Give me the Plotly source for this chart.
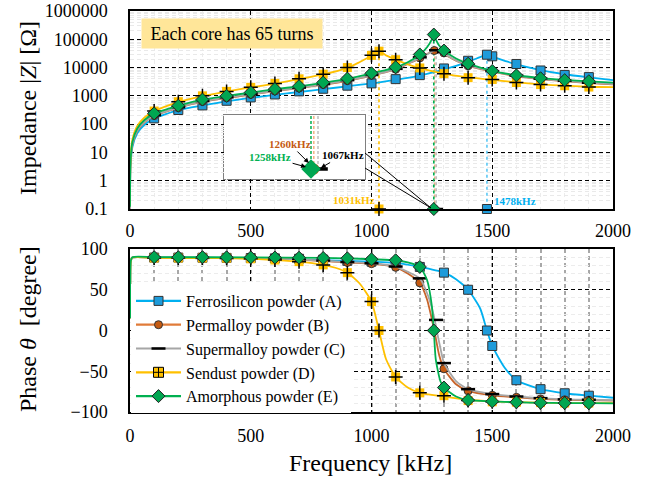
import plotly.graph_objects as go

FONT = "Liberation Serif"

# ---------------- data ----------------
NAMES = ["Ferrosilicon powder (A)", "Permalloy powder (B)", "Supermalloy powder (C)",
         "Sendust powder (D)", "Amorphous powder (E)"]
F_MARK = [100, 200, 300, 400, 500, 600, 700, 800, 900, 1000,
          1100, 1200, 1300, 1400, 1500, 1600, 1700, 1800, 1900]

# measured impedance markers |Z| [Ohm]
Z_A = [160, 316, 460, 670, 880, 1120, 1440, 1780, 2290, 2760, 3900, 5400, 9300, 17400, 25000, 13400, 7900, 5500, 4600]
Z_B = [200, 380, 630, 850, 1120, 1480, 1880, 2500, 3450, 5300, 8700, 22000, 33000, 11500, 7200, 5000, 3900, 3300, 2800]
Z_C = [208, 395, 655, 885, 1165, 1540, 1955, 2600, 3590, 5500, 9000, 23000, 35000, 12000, 7500, 5200, 4050, 3430, 2900]
Z_D = [290, 620, 1000, 1440, 2000, 2760, 4000, 5850, 10000, 27000, 19000, 9700, 6100, 4400, 3800, 2960, 2500, 2270, 2050]
Z_E = [240, 450, 740, 1000, 1320, 1740, 2200, 2960, 4080, 6300, 10300, 29000, 40000, 13700, 7600, 5300, 4200, 3600, 3300]

# measured phase markers [degree]
PH_A = [89.5, 89.5, 89.3, 89.1, 88.9, 88.5, 88, 87, 85.5, 84.5, 83, 78, 71, 50, -19, -61, -72, -77, -80]
PH_B = [89.5, 89.3, 89, 88.8, 88.5, 87.8, 87, 85.5, 83.5, 82, 77.5, 58.5, -47, -74, -79.5, -82, -84, -85, -85.5]
PH_C = [89.6, 89.4, 89.1, 88.9, 88.6, 88, 87.3, 85.8, 84, 82.5, 78.5, 64, -40, -72, -78, -81, -83, -84.5, -85]
PH_D = [89, 89, 89, 88.8, 88, 86.5, 84.5, 80.5, 71, 35.5, -57, -76.5, -80, -86, -87.5, -88, -88.5, -89, -89]
PH_E = [90, 90, 90, 89.8, 89.7, 89.5, 89.3, 89, 88.6, 87.4, 86.2, 78, -70, -85.4, -87, -88, -88.7, -89, -89.2]

# resonance points (A..E)
RES_F = [1478, 1260, 1267, 1031, 1258]
RES_Z = [28500, 40000, 41000, 38000, 147000]
RES_PH = [0, 0, 13, 0, 0]
RES_BOTTOM = 0.1
RES_DROP_F = [1478, 1262, 1268, 1031, 1258]
RES_LABELS = ["1478kHz", "1260kHz", "1067kHz", "1031kHz", "1258kHz"]

# fitted curves
LZ_A_F = [0.05, 2, 10, 30, 60, 100, 200, 300, 400, 500, 600, 700, 800, 900, 1000, 1100, 1200, 1300, 1400,
          1450, 1478, 1510, 1560, 1600, 1700, 1800, 1900, 2000]
LZ_A = [0.1, 3.1, 15.5, 47, 95, 158, 312, 455, 640, 845, 1080, 1370, 1720, 2180, 2750, 3700, 5200, 8600, 16000,
        23500, 28500, 23000, 16500, 13000, 8200, 5800, 4500, 3600]
LZ_B_F = [0.05, 2, 10, 30, 60, 100, 200, 300, 400, 500, 600, 700, 800, 900, 1000, 1100,
          1150, 1200, 1230, 1250, 1262, 1275, 1300, 1350, 1400, 1500, 1600, 1700, 1800, 1900, 2000]
LZ_B = [0.1, 3.9, 19.5, 58, 117, 195, 375, 620, 840, 1110, 1460, 1870, 2480, 3420, 5200, 8600,
        13500, 21000, 30000, 37000, 40000, 37000, 30000, 17500, 11800, 7200, 5000, 3900, 3300, 2850, 2550]
LZ_C_F = [0.05, 2, 10, 30, 60, 100, 200, 300, 400, 500, 600, 700, 800, 900, 1000, 1100,
          1150, 1200, 1235, 1255, 1268, 1280, 1300, 1350, 1400, 1500, 1600, 1700, 1800, 1900, 2000]
LZ_C = [0.1, 4, 20, 60, 120, 200, 386, 640, 865, 1145, 1505, 1925, 2555, 3520, 5350, 8850,
        13900, 21600, 31000, 38000, 41000, 37500, 31000, 18000, 12200, 7400, 5150, 4000, 3400, 2930, 2620]
LZ_D_F = [0.05, 2, 10, 30, 60, 100, 200, 300, 400, 500, 600, 700, 800, 900,
          950, 1000, 1031, 1060, 1100, 1150, 1200, 1300, 1400, 1500, 1600, 1700, 1800, 1900, 2000]
LZ_D = [0.13, 5.7, 28.5, 86, 172, 285, 600, 980, 1420, 1980, 2700, 3900, 5700, 9700,
        15500, 26000, 38000, 27000, 19000, 13000, 9600, 6100, 4500, 3700, 3000, 2550, 2300, 2100, 2050]
LZ_E_F = [0.05, 2, 10, 30, 60, 100, 200, 300, 400, 500, 600, 700, 800, 900, 1000, 1100,
          1150, 1200, 1230, 1250, 1258, 1266, 1280, 1300, 1350, 1400, 1500, 1600, 1700, 1800, 1900, 2000]
LZ_E = [0.12, 4.7, 23.5, 70, 140, 235, 445, 730, 990, 1310, 1720, 2180, 2900, 4000, 6200, 10200,
        15500, 28500, 52000, 100000, 147000, 100000, 60000, 40000, 21000, 13800, 7700, 5350, 4250, 3650, 3250, 2950]

LP_A_F = [0.3, 1, 3, 10, 100, 500, 900, 1100, 1200, 1300, 1350, 1400, 1450, 1478, 1500, 1550, 1600, 1700, 1800, 1900, 2000]
LP_A = [15, 60, 85, 89.5, 89.5, 88.8, 85.5, 83, 78, 71, 63, 50, 27, 0, -19, -45, -61, -72, -77, -80, -82.5]
LP_B_F = [0.3, 1, 3, 10, 100, 500, 700, 900, 1000, 1100, 1150, 1200, 1230, 1260, 1280, 1300, 1350, 1400,
          1500, 1600, 1700, 1800, 1900, 2000]
LP_B = [15, 60, 85, 89.5, 89.5, 88.5, 87, 83.5, 82, 77.5, 70, 58.5, 38, 0, -30, -47, -66, -74,
        -79.5, -82, -84, -85, -85.5, -86]
LP_C_F = [0.3, 1, 3, 10, 100, 500, 700, 900, 1000, 1100, 1150, 1200, 1235, 1262, 1270, 1290, 1300, 1350,
          1400, 1500, 1600, 1700, 1800, 1900, 2000]
LP_C = [15, 60, 85, 89.5, 89.5, 88.7, 87.3, 84, 82.5, 78.5, 72, 64, 42, 13, 0, -28, -40, -62,
        -72, -78, -81, -83, -84.5, -85, -85.5]
LP_D_F = [0.3, 1, 3, 10, 100, 400, 500, 600, 700, 800, 850, 900, 950, 1000, 1031, 1060, 1100, 1150, 1200,
          1300, 1400, 1500, 1600, 1700, 1800, 1900, 2000]
LP_D = [15, 60, 85, 89.5, 89, 88.8, 88, 86.5, 84.5, 80.5, 77, 71, 58, 35.5, 0, -35, -57, -70, -76.5,
        -81, -85, -87, -88, -88.5, -89, -89, -89.2]
LP_E_F = [0.3, 1, 3, 10, 100, 500, 800, 900, 1000, 1100, 1150, 1200, 1230, 1250, 1258, 1266, 1285, 1300,
          1350, 1400, 1500, 1600, 1700, 1800, 1900, 2000]
LP_E = [15, 60, 85, 90, 90, 89.7, 89, 88.6, 87.4, 86.2, 83.5, 78, 62, 30, 0, -35, -62, -70,
        -81, -85.4, -87, -88, -88.7, -89, -89.2, -89.3]

# inset (zoomed view near 1258 kHz)
INSET_F = [1258, 1262, 1271]
INSET_DASH_F = [1258, 1262, 1268]

Z_TICKS = [0.1, 1, 10, 100, 1000, 10000, 100000, 1000000]
Z_TICK_TEXT = ["0.1", "1", "10", "100", "1000", "10000", "100000", "1000000"]
PH_TICKS = [-100, -50, 0, 50, 100]
F_TICKS = [0, 500, 1000, 1500, 2000]

# ---------------- styles ----------------
LINE_COL = ["#00B0F0", "#C8642A", "#A6A6A6", "#FFC000", "#00B050"]
DROP_COL = ["#5BC8F5", "#F4B183", "#BFBFBF", "#FFC000", "#00B050"]
MARKERS = [
    dict(symbol="square", size=9, color="#1E9BDA", line=dict(color="#333333", width=1)),
    dict(symbol="circle", size=8, color="#C55A11", line=dict(color="#333333", width=1)),
    dict(symbol="line-ew", size=10, color="black", line=dict(color="black", width=2.5)),
    dict(symbol="square", size=9, color="#FFC000", line=dict(color="#FFC000", width=0)),
    dict(symbol="diamond", size=10, color="#00A651", line=dict(color="#222222", width=1)),
]
CROSS = dict(symbol="cross-thin", size=10, color="black", line=dict(color="black", width=1.5))

Z_MARK = [Z_A, Z_B, Z_C, Z_D, Z_E]
PH_MARK = [PH_A, PH_B, PH_C, PH_D, PH_E]
LZ = [(LZ_A_F, LZ_A), (LZ_B_F, LZ_B), (LZ_C_F, LZ_C), (LZ_D_F, LZ_D), (LZ_E_F, LZ_E)]
LP = [(LP_A_F, LP_A), (LP_B_F, LP_B), (LP_C_F, LP_C), (LP_D_F, LP_D), (LP_E_F, LP_E)]

fig = go.Figure()

# resonance drop lines (top plot)
for i in range(5):
    fig.add_trace(go.Scatter(x=[RES_DROP_F[i], RES_DROP_F[i]], y=[RES_Z[i], RES_BOTTOM], mode="lines",
                             line=dict(color=DROP_COL[i], width=1.6, dash="dot"),
                             showlegend=False, hoverinfo="skip", xaxis="x", yaxis="y"))

for i in range(5):
    # impedance
    fig.add_trace(go.Scatter(x=LZ[i][0], y=LZ[i][1], mode="lines",
                             line=dict(color=LINE_COL[i], width=1.8, shape="spline", smoothing=0.6),
                             showlegend=False, xaxis="x", yaxis="y"))
    mx = F_MARK + [RES_F[i], RES_F[i]]
    my = Z_MARK[i] + [RES_Z[i], RES_BOTTOM]
    fig.add_trace(go.Scatter(x=mx, y=my, mode="markers", marker=MARKERS[i], cliponaxis=False,
                             showlegend=False, xaxis="x", yaxis="y"))
    if i == 3:
        fig.add_trace(go.Scatter(x=mx, y=my, mode="markers", marker=CROSS, cliponaxis=False,
                                 showlegend=False, xaxis="x", yaxis="y"))
    # phase
    fig.add_trace(go.Scatter(x=LP[i][0], y=LP[i][1], mode="lines",
                             line=dict(color=LINE_COL[i], width=1.8, shape="spline", smoothing=0.6),
                             showlegend=False, xaxis="x2", yaxis="y2"))
    px_ = F_MARK + [RES_F[i]]
    py_ = PH_MARK[i] + [RES_PH[i]]
    fig.add_trace(go.Scatter(x=px_, y=py_, mode="markers", marker=MARKERS[i],
                             showlegend=False, xaxis="x2", yaxis="y2"))
    if i == 3:
        fig.add_trace(go.Scatter(x=px_, y=py_, mode="markers", marker=CROSS,
                                 showlegend=False, xaxis="x2", yaxis="y2"))

# legend entries
for i in range(5):
    mk = dict(MARKERS[i])
    if i == 3:
        mk = dict(symbol="square-cross", size=10, color="#FFC000", line=dict(color="black", width=1))
    fig.add_trace(go.Scatter(x=[None], y=[None], mode="lines+markers", name=NAMES[i],
                             line=dict(color=LINE_COL[i] if i != 1 else "#E07B39", width=2.2),
                             marker=mk, xaxis="x2", yaxis="y2"))

# inset traces
INSET_DASH_COL = ["#00B050", "#F4B183", "#BFBFBF"]
for f, c in zip(INSET_DASH_F, INSET_DASH_COL):
    fig.add_trace(go.Scatter(x=[f, f], y=[0.1, 0.64], mode="lines", line=dict(color=c, width=1.5, dash="3px,2px"),
                             showlegend=False, xaxis="x3", yaxis="y3"))
fig.add_trace(go.Scatter(x=[INSET_F[1]], y=[0.1], mode="markers",
                         marker=dict(symbol="circle", size=11, color="#C55A11"), showlegend=False,
                         xaxis="x3", yaxis="y3"))
fig.add_trace(go.Scatter(x=[INSET_F[2]], y=[0.1], mode="markers",
                         marker=dict(symbol="line-ew", size=11, line=dict(color="black", width=3.5)),
                         showlegend=False, xaxis="x3", yaxis="y3"))
fig.add_trace(go.Scatter(x=[INSET_F[0]], y=[0.1], mode="markers",
                         marker=dict(symbol="diamond", size=15, color="#00A651", line=dict(color="#00A651", width=0)),
                         showlegend=False, xaxis="x3", yaxis="y3"))

# ---------------- layout ----------------
L, R, T, B = 130, 50, 11, 68
W, H = 663, 480
PW, PHT = W - L - R, H - T - B


def PX(x):
    return (x - L) / PW


def PY(y):
    return (H - B - y) / PHT


tickfont = dict(family=FONT, size=18, color="black")
grid_major = dict(showgrid=True, gridcolor="black", gridwidth=1, griddash="4px,3px")
axline = dict(showline=True, linecolor="black", linewidth=1.5, mirror=True, zeroline=False,
              ticks="", tickfont=tickfont, automargin=False)

fig.update_layout(
    width=W, height=H, margin=dict(l=L, r=R, t=T, b=B, autoexpand=False),
    paper_bgcolor="white", plot_bgcolor="white",
    font=dict(family=FONT, color="black"),
    xaxis=dict(domain=[0, 1], range=[0, 2000], tickvals=F_TICKS, anchor="y", ticklabelstandoff=5,
               minor=dict(dtick=100, showgrid=True, gridcolor="#ECECEC", gridwidth=1),
               **grid_major, **axline),
    yaxis=dict(domain=[PY(209), 1], type="log", range=[-1, 6], tickvals=Z_TICKS, ticktext=Z_TICK_TEXT,
               anchor="x", ticklabelstandoff=17,
               minor=dict(dtick="D1", showgrid=True, gridcolor="#E9E9E9", gridwidth=1),
               **grid_major, **axline),
    xaxis2=dict(domain=[0, 1], range=[0, 2000], tickvals=F_TICKS, anchor="y2", ticklabelstandoff=7,
                minor=dict(dtick=100, showgrid=True, gridcolor="#A8A8A8", gridwidth=1.5),
                **grid_major, **axline),
    yaxis2=dict(domain=[0, PY(249)], range=[-100, 100], tickvals=PH_TICKS, anchor="x2", ticklabelstandoff=17,
                minor=dict(dtick=10, showgrid=True, gridcolor="#ECECEC", gridwidth=1),
                **grid_major, **axline),
    xaxis3=dict(domain=[PX(224), PX(365)], range=[1134, 1335], anchor="y3", visible=False, showgrid=False),
    yaxis3=dict(domain=[PY(179), PY(115)], range=[0, 0.64], anchor="x3", visible=False, showgrid=False),
    legend=dict(x=PX(131), y=PY(284), xanchor="left", yanchor="top", bgcolor="white",
                font=dict(family=FONT, size=16, color="black"), itemwidth=45, tracegroupgap=0),
    showlegend=True,
)

shapes = [
    dict(type="rect", xref="x3 domain", yref="y3 domain", x0=0, x1=1, y0=0, y1=1,
         fillcolor="white", line=dict(color="#7F7F7F", width=2), layer="below"),
    dict(type="line", xref="x3 domain", yref="y3 domain", x0=(231 - 224) / 141, x1=(342 - 224) / 141,
         y0=(179 - 169) / 64, y1=(179 - 169) / 64, line=dict(color="black", width=2), layer="below"),
    dict(type="line", xref="paper", yref="paper", x0=PX(365), y0=PY(153), x1=PX(431), y1=PY(208),
         line=dict(color="black", width=1)),
    dict(type="line", xref="paper", yref="paper", x0=PX(365), y0=PY(168), x1=PX(431), y1=PY(208),
         line=dict(color="black", width=1)),
]
fig.update_layout(shapes=shapes)

lab = dict(family=FONT, size=11)
C = dict(xanchor="center", yanchor="middle")
annotations = [
    dict(text="Each core has 65 turns", xref="paper", yref="paper", x=PX(232), y=PY(34),
         showarrow=False, bgcolor="#FFE699", font=dict(family=FONT, size=18, color="black"),
         width=172, height=21, borderpad=4, **C),
    dict(text="Impedance |<i>Z</i>| [Ω]", xref="paper", yref="paper", x=PX(28), y=PY(108),
         textangle=-90, showarrow=False, font=dict(family=FONT, size=24, color="black"), **C),
    dict(text="Phase <i>θ</i>  [degree]", xref="paper", yref="paper", x=PX(28), y=PY(329),
         textangle=-90, showarrow=False, font=dict(family=FONT, size=24, color="black"), **C),
    dict(text="Frequency [kHz]", xref="paper", yref="paper", x=PX(370), y=PY(463),
         showarrow=False, font=dict(family=FONT, size=24, color="black"), **C),
    dict(text="<b>" + RES_LABELS[3] + "</b>", xref="x", yref="y", x=RES_F[3], y=-1, xanchor="right",
         yanchor="middle", xshift=-2, yshift=9, showarrow=False, font=dict(color="#FFC000", **lab)),
    dict(text="<b>" + RES_LABELS[0] + "</b>", xref="x", yref="y", x=RES_F[0], y=-1, xanchor="left",
         yanchor="middle", xshift=5, yshift=8, showarrow=False, font=dict(color="#00B0F0", **lab)),
    dict(text="<b>" + RES_LABELS[1] + "</b>", xref="x3", yref="y3", x=1255, y=0.16, ax=-19, ay=-19,
         showarrow=True, arrowhead=2, arrowsize=1, arrowwidth=1, arrowcolor="black",
         font=dict(color="#C55A11", **lab)),
    dict(text="<b>" + RES_LABELS[4] + "</b>", xref="x3", yref="y3", x=1251, y=0.12, ax=-36, ay=-10,
         showarrow=True, arrowhead=2, arrowsize=1, arrowwidth=1, arrowcolor="black",
         font=dict(color="#00B050", **lab)),
    dict(text="<b>" + RES_LABELS[2] + "</b>", xref="x3", yref="y3", x=1272, y=0.11, ax=22, ay=-13,
         showarrow=True, arrowhead=2, arrowsize=1, arrowwidth=1, arrowcolor="black",
         font=dict(color="black", **lab)),
]
fig.update_layout(annotations=annotations)

fig.write_html("out.html")
